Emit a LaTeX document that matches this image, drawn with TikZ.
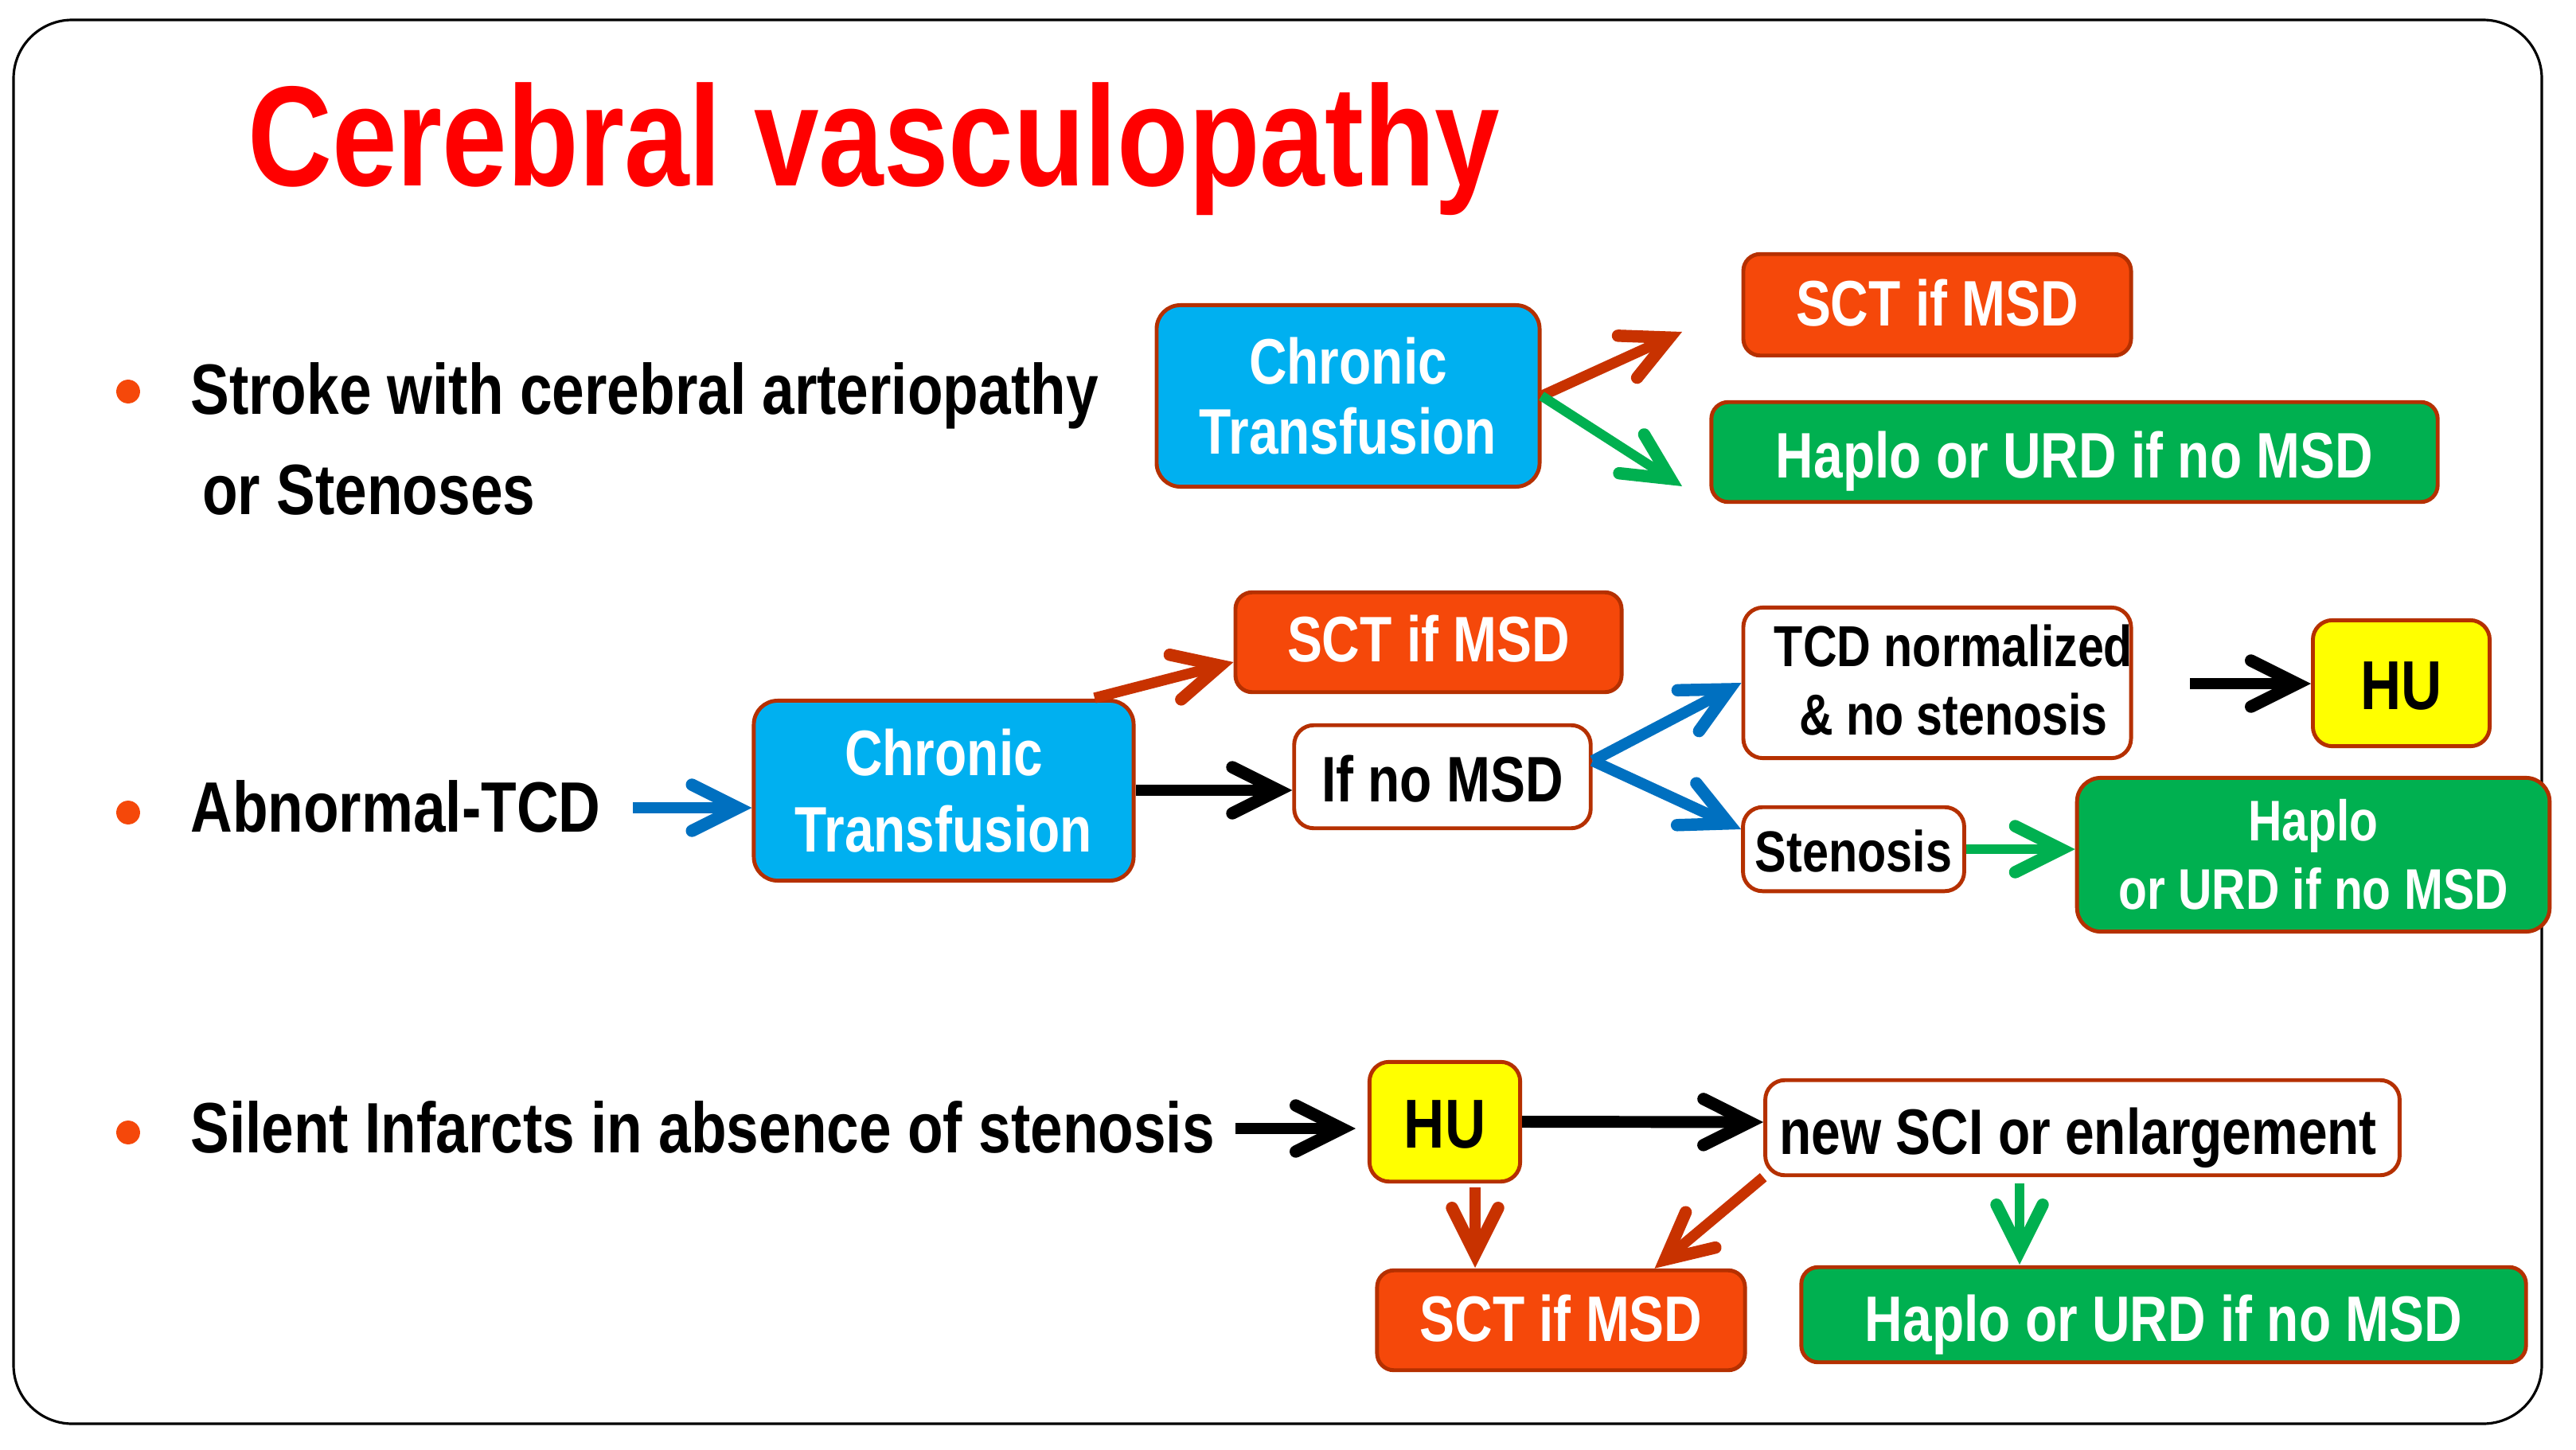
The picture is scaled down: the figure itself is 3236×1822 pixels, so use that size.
\documentclass[tikz,border=0pt]{standalone}
\usepackage{fontspec}
\setmainfont{Liberation Sans}
\newfontfamily\cond[FakeStretch=0.815]{Liberation Sans Bold}
\newfontfamily\condtitle[FakeStretch=0.8185]{Liberation Sans Bold}
\usetikzlibrary{arrows.meta,calc}
\definecolor{cborder}{HTML}{B53000}
\definecolor{corange}{HTML}{F5480A}
\definecolor{cblue}{HTML}{00B0F0}
\definecolor{cgreen}{HTML}{00B050}
\definecolor{cyellow}{HTML}{FFFF00}
\definecolor{cred}{HTML}{C83200}
\definecolor{carrowblue}{HTML}{0070C0}
\tikzset{
  panel/.style={draw=black,line width=1.8pt,rounded corners=42pt},
  boxbase/.style={draw=cborder,line width=2.8pt,inner sep=0pt,align=center,
     text depth=0pt,font=\cond\fontsize{46}{50}\selectfont},
  orangebox/.style={boxbase,fill=corange,text=white,rounded corners=12pt},
  greenbox/.style={boxbase,fill=cgreen,text=white,rounded corners=12pt},
  bigboxgreen/.style={boxbase,fill=cgreen,text=white,rounded corners=17pt,text depth=,font=\cond\fontsize{41}{49}\selectfont},
  bluebox/.style={boxbase,fill=cblue,text=white,rounded corners=17pt,text depth=},
  whitebox/.style={boxbase,fill=white,text=black,rounded corners=14pt},
  yellowbox/.style={boxbase,fill=cyellow,text=black,rounded corners=14pt,font=\cond\fontsize{49.5}{52}\selectfont},
  bodytext/.style={text=black,inner sep=0pt,font=\cond\fontsize{51}{56}\selectfont},
  bulletdot/.style={circle,fill=corange,minimum size=17pt,inner sep=0pt},
  conn/.style={line width=#1,-{Straight Barb[length=33pt,width=33pt,line width=8.8pt,line cap=round,line join=miter]},line cap=butt},
  redconn/.style={conn=7.6pt,draw=cred},
  greenconn/.style={conn=7pt,draw=cgreen},
  blueconn/.style={conn=8pt,draw=carrowblue},
  blackconn/.style={conn=8.5pt,draw=black},
}
\newcommand{\pxbox}[7]{%
  \node[#2,minimum width={(#5-#3-2)*0.56693pt},minimum height={(#6-#4-2)*0.56693pt}]
    (#1) at ({(#3+#5)/2},{(#4+#6)/2}) {#7};}
\begin{document}
\begin{tikzpicture}[x=0.02cm,y=-0.02cm]
\useasboundingbox (0,0) rectangle (3236,1822);
\fill[white] (0,0) rectangle (3236,1822);
\draw[panel] (17,25) rectangle (3193,1789);

\node[anchor=base,text=red,inner sep=0pt,font=\condtitle\fontsize{102}{110}\selectfont] (title) at (1098,233) {Cerebral vasculopathy};

\node[bulletdot] (b1) at (161,492) {};
\node[bulletdot] (b2) at (161,1021) {};
\node[bulletdot] (b3) at (161,1423) {};
\node[bodytext,anchor=base west] (t1a) at (239,520) {Stroke with cerebral arteriopathy};
\node[bodytext,anchor=base west] (t1b) at (254,646) {or Stenoses};
\node[bodytext,anchor=base west] (t2) at (239,1045) {Abnormal-TCD};
\node[bodytext,anchor=base west] (t3) at (239,1448) {Silent Infarcts in absence of stenosis};

% row 1
\pxbox{chr1}{bluebox}{1451}{382}{1936}{613}{Chronic\\Transfusion}
\pxbox{sct1}{orangebox,text height=29.6pt}{2188}{318}{2679}{448}{SCT if MSD}
\pxbox{hap1}{greenbox,text height=37pt}{2147}{504}{3065}{632}{Haplo or URD if no MSD}
% row 2
\pxbox{chr2}{bluebox,font=\cond\fontsize{46}{55}\selectfont}{945}{879}{1426}{1108}{Chronic\\Transfusion}
\pxbox{sct2}{orangebox,text height=28.4pt}{1550}{743}{2039}{871}{SCT if MSD}
\pxbox{ifno}{whitebox,text height=36pt}{1624}{910}{2000}{1042}{If no MSD}
\pxbox{tcd}{whitebox}{2188}{762}{2679}{954}{}
\node[text=black,inner sep=0pt,align=center,font=\cond\fontsize{41.3}{49}\selectfont] (tcdtext) at (2454,855) {TCD normalized\\\& no stenosis};
\pxbox{hu1}{yellowbox,text height=37.6pt}{2904}{778}{3129}{939}{HU}
\pxbox{sten}{whitebox,text height=32pt}{2188}{1013}{2469}{1121}{\fontsize{41.4}{49}\selectfont Stenosis}
\pxbox{hap2}{bigboxgreen}{2607}{976}{3205}{1172}{Haplo\\or URD if no MSD}
% row 3
\pxbox{hu2}{yellowbox,text height=37.6pt}{1719}{1333}{1911}{1486}{HU}
\pxbox{sci}{whitebox,text height=38pt}{2215}{1356}{3017}{1478}{new SCI or enlargement\hspace{6pt}}
\pxbox{sct3}{orangebox,text height=30pt}{1728}{1595}{2194}{1723}{SCT if MSD}
\pxbox{hap3}{greenbox,text height=38pt}{2260}{1591}{3176}{1713}{Haplo or URD if no MSD}

\coordinate (endA) at (2113,417);
\coordinate (endB) at (2113,611);
\coordinate (startC) at (1375,877);
\coordinate (startE) at (795,1015);
\coordinate (startH) at (2751,859);
\coordinate (startJ) at (1552,1418);
\coordinate (endJ) at (1703,1418);
\coordinate (endL) at (1853,1593);
\coordinate (endN) at (2537,1589);

\draw[redconn] (chr1.east) -- (endA);
\draw[greenconn] (chr1.east) -- (endB);
\draw[redconn] (startC) -- ($(sct2.west)+(0,25)$);
\draw[blackconn] (chr2.east |- ifno.center) ++(0,17) -- ($(ifno.west)+(0,17)$);
\draw[blueconn] (startE) -- (startE -| chr2.west);
\draw[blueconn] ($(ifno.east)+(0,-20)$) -- (tcd.west);
\draw[blueconn] ($(ifno.east)+(0,-20)$) -- ($(sten.west)+(0,-25)$);
\draw[blackconn] (startH) -- (startH -| hu1.west);
\draw[greenconn] (sten.east) -- (sten.east -| hap2.west);
\draw[blackconn] (startJ) -- (endJ);
\draw[blackconn] ($(hu2.east)+(0,0)$) -- ($(sci.west)+(0,-7)$);
\draw[redconn] (hu2.south -| endL) ++(0,5) -- (endL);
\draw[redconn] (sci.south west) -- ($(sct3.north east)+(-116,0)$);
\draw[greenconn] (sci.south -| endN) ++(0,8) -- (endN);
\end{tikzpicture}
\end{document}
